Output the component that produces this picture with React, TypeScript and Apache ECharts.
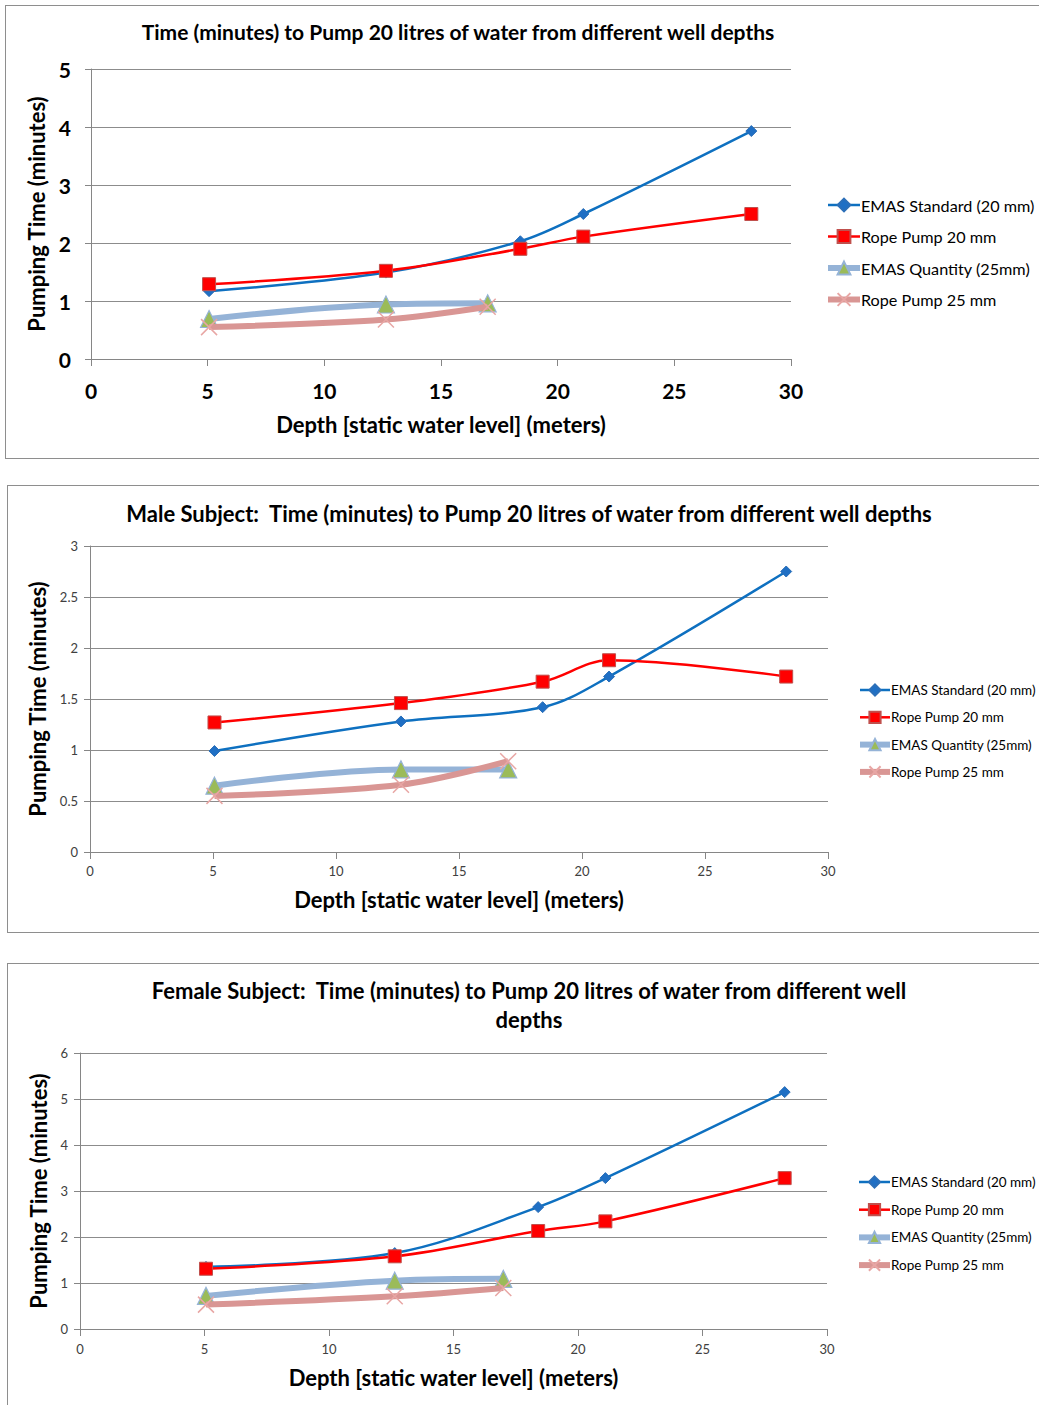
import React, { useEffect, useRef } from "react";
import * as echarts from "echarts";

const SERIES_NAMES = [
  "EMAS Standard (20 mm)",
  "Rope Pump 20 mm",
  "EMAS Quantity (25mm)",
  "Rope Pump 25 mm",
];
const DEPTHS_LONG = [5.06, 12.64, 18.4, 21.1, 28.3];
const DEPTHS_SHORT = [5.06, 12.64, 17.0];

const ALL_EMAS_STD = [1.17, 1.49, 2.03, 2.5, 3.93];
const ALL_ROPE_20 = [1.29, 1.52, 1.9, 2.11, 2.5];
const ALL_EMAS_QTY = [0.69, 0.94, 0.96];
const ALL_ROPE_25 = [0.55, 0.68, 0.9];

const MALE_EMAS_STD = [0.99, 1.28, 1.42, 1.72, 2.75];
const MALE_ROPE_20 = [1.27, 1.46, 1.67, 1.88, 1.72];
const MALE_EMAS_QTY = [0.65, 0.81, 0.81];
const MALE_ROPE_25 = [0.55, 0.66, 0.89];

const FEMALE_EMAS_STD = [1.35, 1.65, 2.65, 3.28, 5.15];
const FEMALE_ROPE_20 = [1.31, 1.58, 2.13, 2.34, 3.28];
const FEMALE_EMAS_QTY = [0.72, 1.05, 1.09];
const FEMALE_ROPE_25 = [0.53, 0.71, 0.89];

const TITLE_ALL = ["Time (minutes) to Pump 20 litres of water from different well depths"];
const TITLE_MALE = ["Male Subject:  Time (minutes) to Pump 20 litres of water from different well depths"];
const TITLE_FEMALE = [
  "Female Subject:  Time (minutes) to Pump 20 litres of water from different well",
  "depths",
];
const X_NAME = "Depth [static water level] (meters)";
const Y_NAME = "Pumping Time (minutes)";

const FONT = "Lato, 'Open Sans', sans-serif";
const X_CROSS = "path://M0,0L10,10M10,0L0,10";

type Cfg = {
  top: number;
  height: number;
  title: string[];
  titleX: number;
  titleY: number;
  titleLineGap: number;
  titleSize: number;
  grid: { left: number; top: number; width: number; height: number };
  yMax: number;
  yInterval: number;
  tickSize: number;
  tickBold: boolean;
  tickColor: string;
  xLabelMargin: number;
  yLabelMargin: number;
  nameSize: number;
  xNameGap: number;
  yNameGap: number;
  legendLeft: number;
  legendTop: number;
  legendGap: number;
  legendFont: number;
  legendItemH: number;
  legendItemW: number;
  data: number[][];
};

function makeOption(c: Cfg) {
  const series = [
    {
      name: SERIES_NAMES[0],
      type: "line",
      smooth: 0.35,
      data: DEPTHS_LONG.map((d, i) => [d, c.data[0][i]]),
      symbol: "diamond",
      symbolSize: 11,
      lineStyle: { color: "#0E70C0", width: 2.5 },
      itemStyle: { color: "#1F6FC4", borderColor: "#2C6FB8", borderWidth: 1 },
      z: 2,
    },
    {
      name: SERIES_NAMES[1],
      type: "line",
      smooth: 0.35,
      data: DEPTHS_LONG.map((d, i) => [d, c.data[1][i]]),
      symbol: "rect",
      symbolSize: 13,
      lineStyle: { color: "#FF0000", width: 2.5 },
      itemStyle: { color: "#FF0000", borderColor: "#C0504D", borderWidth: 1 },
      z: 3,
    },
    {
      name: SERIES_NAMES[2],
      type: "line",
      smooth: 0.35,
      data: DEPTHS_SHORT.map((d, i) => [d, c.data[2][i]]),
      symbol: "triangle",
      symbolSize: 17,
      lineStyle: { color: "#95B3D7", width: 6 },
      itemStyle: { color: "#9BBB59", borderColor: "#95B3D7", borderWidth: 1.2 },
      z: 4,
    },
    {
      name: SERIES_NAMES[3],
      type: "line",
      smooth: 0.35,
      data: DEPTHS_SHORT.map((d, i) => [d, c.data[3][i]]),
      symbol: X_CROSS,
      symbolSize: 16,
      lineStyle: { color: "#D99694", width: 6 },
      itemStyle: { color: "rgba(0,0,0,0)", borderColor: "#E8A6A4", borderWidth: 1.5 },
      z: 5,
    },
  ];

  const graphics = c.title.map((t, i) => ({
    type: "text",
    x: c.titleX,
    y: c.titleY + i * c.titleLineGap,
    style: {
      text: t,
      font: `bold ${c.titleSize}px ${FONT}`,
      fill: "#000",
      textAlign: "center",
      textVerticalAlign: "middle",
      align: "center",
      verticalAlign: "middle",
    },
  }));

  return {
    animation: false,
    backgroundColor: "transparent",
    graphic: graphics,
    grid: { ...c.grid, containLabel: false },
    legend: {
      data: SERIES_NAMES,
      orient: "vertical",
      left: c.legendLeft,
      top: c.legendTop,
      padding: 0,
      itemGap: c.legendGap,
      itemWidth: c.legendItemW,
      itemHeight: c.legendItemH,
      lineStyle: { width: "inherit" },
      textStyle: { fontFamily: FONT, fontSize: c.legendFont, color: "#000", padding: [0, 0, 0, -4] },
      selectedMode: false,
    },
    xAxis: {
      type: "value",
      min: 0,
      max: 30,
      interval: 5,
      name: X_NAME,
      nameLocation: "middle",
      nameGap: c.xNameGap,
      nameTextStyle: { fontFamily: FONT, fontWeight: "bold", fontSize: c.nameSize, color: "#000" },
      axisLine: { show: true, lineStyle: { color: "#868686", width: 1 } },
      axisTick: { show: true, length: 7, lineStyle: { color: "#868686" } },
      axisLabel: {
        margin: c.xLabelMargin,
        fontFamily: FONT,
        fontSize: c.tickSize,
        fontWeight: c.tickBold ? "bold" : "normal",
        color: c.tickColor,
      },
      splitLine: { show: false },
    },
    yAxis: {
      type: "value",
      min: 0,
      max: c.yMax,
      interval: c.yInterval,
      name: Y_NAME,
      nameLocation: "middle",
      nameRotate: 90,
      nameGap: c.yNameGap,
      nameTextStyle: { fontFamily: FONT, fontWeight: "bold", fontSize: c.nameSize, color: "#000" },
      axisLine: { show: true, lineStyle: { color: "#868686", width: 1 } },
      axisTick: { show: true, length: 6, lineStyle: { color: "#868686" } },
      axisLabel: {
        margin: c.yLabelMargin,
        fontFamily: FONT,
        fontSize: c.tickSize,
        fontWeight: c.tickBold ? "bold" : "normal",
        color: c.tickColor,
      },
      splitLine: { show: true, lineStyle: { color: "#8C8C8C", width: 1 } },
    },
    series,
  };
}

const CONFIGS: Cfg[] = [
  {
    top: 0,
    height: 465,
    title: TITLE_ALL,
    titleX: 458,
    titleY: 31,
    titleLineGap: 0,
    titleSize: 21,
    grid: { left: 91, top: 69, width: 700, height: 290 },
    yMax: 5,
    yInterval: 1,
    tickSize: 21,
    tickBold: true,
    tickColor: "#000",
    xLabelMargin: 21,
    yLabelMargin: 20,
    nameSize: 22,
    xNameGap: 54,
    yNameGap: 33,
    legendLeft: 825,
    legendTop: 197,
    legendGap: 15.5,
    legendFont: 16.2,
    legendItemH: 16,
    legendItemW: 32,
    data: [ALL_EMAS_STD, ALL_ROPE_20, ALL_EMAS_QTY, ALL_ROPE_25],
  },
  {
    top: 468,
    height: 470,
    title: TITLE_MALE,
    titleX: 529,
    titleY: 45,
    titleLineGap: 0,
    titleSize: 22,
    grid: { left: 90, top: 78, width: 738, height: 306 },
    yMax: 3,
    yInterval: 0.5,
    tickSize: 13,
    tickBold: false,
    tickColor: "#404040",
    xLabelMargin: 12,
    yLabelMargin: 12,
    nameSize: 22,
    xNameGap: 36,
    yNameGap: 32,
    legendLeft: 857,
    legendTop: 215,
    legendGap: 13.3,
    legendFont: 13.5,
    legendItemH: 14,
    legendItemW: 30,
    data: [MALE_EMAS_STD, MALE_ROPE_20, MALE_EMAS_QTY, MALE_ROPE_25],
  },
  {
    top: 945,
    height: 460,
    title: TITLE_FEMALE,
    titleX: 529,
    titleY: 45,
    titleLineGap: 29,
    titleSize: 22,
    grid: { left: 80, top: 108, width: 747, height: 276 },
    yMax: 6,
    yInterval: 1,
    tickSize: 13,
    tickBold: false,
    tickColor: "#404040",
    xLabelMargin: 13,
    yLabelMargin: 12,
    nameSize: 22,
    xNameGap: 37,
    yNameGap: 22,
    legendLeft: 856,
    legendTop: 230,
    legendGap: 13.7,
    legendFont: 13.5,
    legendItemH: 14,
    legendItemW: 31,
    data: [FEMALE_EMAS_STD, FEMALE_ROPE_20, FEMALE_EMAS_QTY, FEMALE_ROPE_25],
  },
];

function ChartPanel({ cfg }: { cfg: Cfg }) {
  const ref = useRef<HTMLDivElement>(null);
  useEffect(() => {
    if (!ref.current) return;
    const chart = echarts.init(ref.current, undefined, { renderer: "svg" });
    chart.setOption(makeOption(cfg) as any);
    return () => chart.dispose();
  }, [cfg]);
  return (
    <div
      ref={ref}
      style={{ position: "absolute", left: 0, top: cfg.top, width: 1039, height: cfg.height }}
    />
  );
}

const BORDERS = [
  { left: 5, top: 5, height: 454 },
  { left: 7, top: 485, height: 448 },
  { left: 7, top: 963, height: 460 },
];

export default function App() {
  return (
    <div
      style={{
        position: "absolute",
        left: 0,
        top: 0,
        width: 1039,
        height: 1405,
        overflow: "hidden",
        background: "#fff",
      }}
    >
      {BORDERS.map((b, i) => (
        <div
          key={i}
          style={{
            position: "absolute",
            left: b.left,
            top: b.top,
            width: 1060,
            height: b.height,
            border: "1.5px solid #8E8E8E",
            boxSizing: "border-box",
          }}
        />
      ))}
      {CONFIGS.map((c, i) => (
        <ChartPanel key={i} cfg={c} />
      ))}
    </div>
  );
}
